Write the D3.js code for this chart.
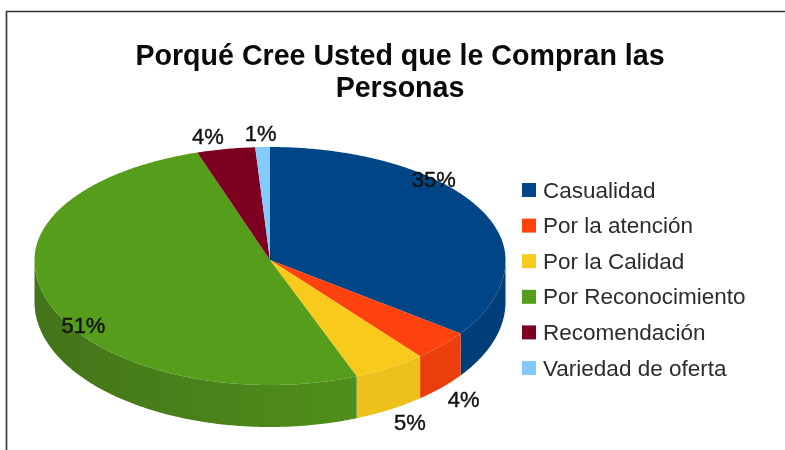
<!DOCTYPE html>
<html lang="en">
<head>
    <meta charset="UTF-8">
    <title>Porqué Cree Usted que le Compran las Personas</title>
    <style>
        html, body { margin: 0; padding: 0; background: #fff; }
        svg { display: block; filter: blur(0.5px); }
        text { font-family: "Liberation Sans", Arial, sans-serif; }
        .title { font-size: 28.6px; font-weight: bold; fill: #0a0a0a; text-anchor: middle; }
        .legend text { font-size: 22.5px; fill: #2b2b30; dominant-baseline: central; }
        .pct { font-size: 22px; fill: #111; stroke: #111; stroke-width: 0.4px; text-anchor: middle; dominant-baseline: central; }
    </style>
</head>
<body>
    <svg width="785" height="450"></svg>
    <script src="https://d3js.org/d3.v7.min.js"></script>
    <script>
        var categories = ["Casualidad", "Por la atención", "Por la Calidad", "Por Reconocimiento", "Recomendación", "Variedad de oferta"];
        var values = [35, 4, 5, 51, 4, 1];
        var titleLines = ["Porqué Cree Usted que le Compran las", "Personas"];
        var topColors = ["#004586", "#ff420e", "#f8ca1c", "#579d1c", "#7e0021", "#83caff"];
        var sideColors = ["#003e7a", "#ec3e0c", "#eec01c", "#4f8f1a", "#6a001c", "#6fb0e0"];

        // label offsets from the rim point of each slice
        var labelDx = [-46, 22, 20, 35, -18, -2];
        var labelDy = [-29, 54, 55, 23, -13, -14];

        var svg = d3.select("svg");

        var cx = 270, cy = 260,
            rx = 235.5,
            ryTop = 113, ryBottom = 125, // the reference has some perspective: near half is taller
            depth = 42;

        var pie = d3.pie().sort(null).value(function(d) { return d; });
        var arcs = pie(values);

        // angle is clockwise from 12 o'clock, same as d3.pie
        function rim(a, dz) {
            var c = Math.cos(a);
            return [cx + rx * Math.sin(a), cy - c * (c > 0 ? ryTop : ryBottom) + (dz || 0)];
        }

        function sample(a0, a1, dz) {
            var n = Math.max(2, Math.ceil((a1 - a0) / 0.01));
            return d3.range(n + 1).map(function(i) { return rim(a0 + (a1 - a0) * i / n, dz); });
        }

        var line = d3.line();

        // frame, only left and top are visible
        svg.append("path")
            .attr("d", "M6.5,450V11.5H785")
            .attr("fill", "none")
            .attr("stroke", "#333")
            .attr("stroke-width", 1.6);

        svg.selectAll(".title")
            .data(titleLines)
            .enter().append("text")
            .attr("class", "title")
            .attr("x", 400)
            .attr("y", function(d, i) { return 65 + i * 32; })
            .text(function(d) { return d; });

        var grad = svg.append("defs").append("linearGradient")
            .attr("id", "greenSide")
            .attr("gradientUnits", "userSpaceOnUse")
            .attr("x1", cx - rx).attr("x2", 358)
            .attr("y1", 0).attr("y2", 0);
        grad.append("stop").attr("offset", 0).attr("stop-color", "#44741a");
        grad.append("stop").attr("offset", 1).attr("stop-color", sideColors[3]);

        // side wall, only the part of each slice on the near half
        var g = svg.append("g");
        arcs.forEach(function(d, i) {
            var a0 = Math.max(d.startAngle, Math.PI / 2),
                a1 = Math.min(d.endAngle, Math.PI * 1.5);
            if (a1 <= a0) return;
            var pts = sample(a0, a1, 0).concat(sample(a0, a1, depth).reverse());
            g.append("path")
                .attr("d", line(pts) + "Z")
                .attr("fill", i == 3 ? "url(#greenSide)" : sideColors[i]);
        });

        // top face
        g.selectAll(".slice")
            .data(arcs)
            .enter().append("path")
            .attr("class", "slice")
            .attr("d", function(d) {
                return line([[cx, cy]].concat(sample(d.startAngle, d.endAngle, 0))) + "Z";
            })
            .attr("fill", function(d, i) { return topColors[i]; });

        svg.selectAll(".pct")
            .data(arcs)
            .enter().append("text")
            .attr("class", "pct")
            .attr("x", function(d, i) { return rim((d.startAngle + d.endAngle) / 2)[0] + labelDx[i]; })
            .attr("y", function(d, i) { return rim((d.startAngle + d.endAngle) / 2)[1] + labelDy[i]; })
            .text(function(d) { return d.value + "%"; });

        var legendY = d3.scalePoint().domain(categories).range([190, 368]);

        var legend = svg.append("g").attr("class", "legend")
            .selectAll("g")
            .data(categories)
            .enter().append("g")
            .attr("transform", function(d) { return "translate(522," + legendY(d) + ")"; });

        legend.append("rect")
            .attr("y", -7)
            .attr("width", 14)
            .attr("height", 14)
            .attr("fill", function(d, i) { return topColors[i]; });

        legend.append("text")
            .attr("x", 21)
            .text(function(d) { return d; });
    </script>
</body>
</html>
